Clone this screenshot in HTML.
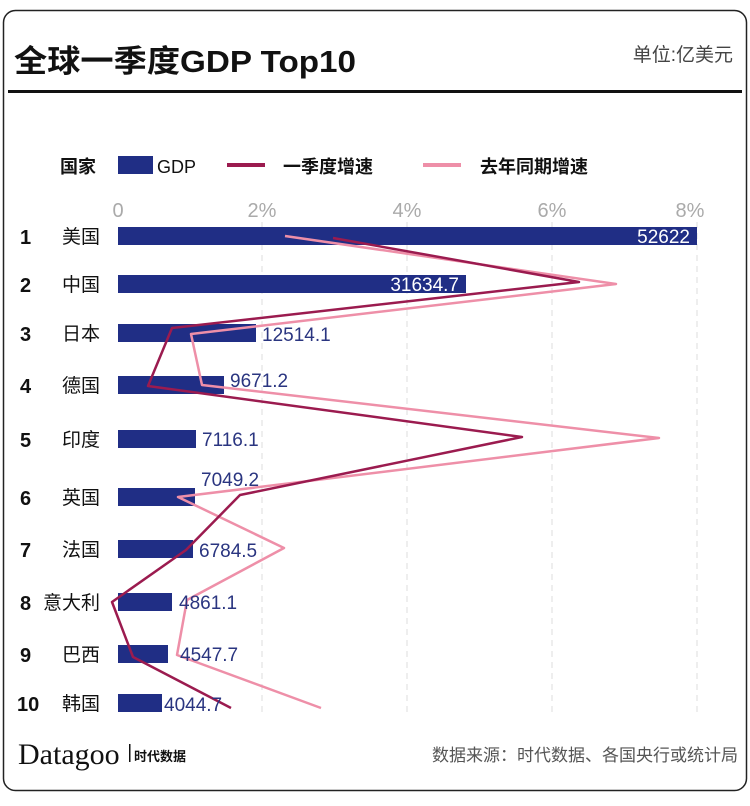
<!DOCTYPE html>
<html><head><meta charset="utf-8"><style>
body{margin:0;width:750px;height:801px;background:#fff;font-family:"Liberation Sans","Noto Sans CJK SC",sans-serif;overflow:hidden}
</style></head><body>
<svg width="750" height="801" xmlns="http://www.w3.org/2000/svg" font-family="Liberation Sans, Noto Sans CJK SC, sans-serif">
<rect x="3.5" y="10.5" width="743" height="780" rx="12" fill="#fff" stroke="#222" stroke-width="1.5"/>
<text x="14" y="72" font-size="31" font-weight="bold" fill="#111" textLength="342" lengthAdjust="spacingAndGlyphs">全球一季度GDP Top10</text>
<text x="733" y="61" font-size="19" fill="#444" text-anchor="end">单位:亿美元</text>
<rect x="8" y="90" width="734" height="3" fill="#111"/>
<text x="60" y="173" font-size="18" font-weight="bold" fill="#111">国家</text>
<rect x="118" y="156" width="35" height="18" fill="#202e85"/>
<text x="157" y="173" font-size="18" fill="#111">GDP</text>
<rect x="227" y="163" width="38" height="4" fill="#9b1b4f"/>
<text x="283" y="173" font-size="18" font-weight="bold" fill="#111">一季度增速</text>
<rect x="423" y="163" width="38" height="4" fill="#ee8fa8"/>
<text x="480" y="173" font-size="18" font-weight="bold" fill="#111">去年同期增速</text>
<g font-size="20" fill="#aaa" text-anchor="middle">
<text x="118" y="217">0</text><text x="262" y="217">2%</text><text x="407" y="217">4%</text><text x="552" y="217">6%</text><text x="690" y="217">8%</text></g>
<g stroke="#ddd" stroke-dasharray="6,5" stroke-width="1">
<line x1="262" y1="222" x2="262" y2="712"/><line x1="407" y1="222" x2="407" y2="712"/><line x1="552" y1="222" x2="552" y2="712"/><line x1="697" y1="222" x2="697" y2="712"/></g>
<g fill="#202e85">
<rect x="118" y="227" width="579" height="18"/>
<rect x="118" y="275" width="348" height="18"/>
<rect x="118" y="324" width="138" height="18"/>
<rect x="118" y="376" width="106" height="18"/>
<rect x="118" y="430" width="78" height="18"/>
<rect x="118" y="488" width="77" height="18"/>
<rect x="118" y="540" width="75" height="18"/>
<rect x="118" y="593" width="54" height="18"/>
<rect x="118" y="645" width="50" height="18"/>
<rect x="118" y="694" width="44" height="18"/></g>
<g font-size="20" fill="#111" font-weight="bold">
<text x="20" y="244">1</text><text x="20" y="292">2</text><text x="20" y="341">3</text><text x="20" y="393">4</text><text x="20" y="447">5</text><text x="20" y="505">6</text><text x="20" y="557">7</text><text x="20" y="610">8</text><text x="20" y="662">9</text><text x="17" y="711">10</text></g>
<g font-size="19" fill="#111" text-anchor="end">
<text x="100" y="243">美国</text><text x="100" y="291">中国</text><text x="100" y="340">日本</text><text x="100" y="392">德国</text><text x="100" y="446">印度</text><text x="100" y="504">英国</text><text x="100" y="556">法国</text><text x="100" y="609">意大利</text><text x="100" y="661">巴西</text><text x="100" y="710">韩国</text></g>
<polyline fill="none" stroke="#ee8fa8" stroke-width="2.5" stroke-linejoin="round" points="285,236 616,284 191,334 202,385 659,438 178,497 284,548 187,600 177,655 321,708"/>
<polyline fill="none" stroke="#9b1b4f" stroke-width="2.5" stroke-linejoin="round" points="333,238 579,282 172,328 148,386 522,437 240,495 186,550 112,602 133,657 231,708"/>
<g font-size="19">
<text x="690" y="243" fill="#fff" text-anchor="end">52622</text>
<text x="459" y="291" fill="#fff" text-anchor="end">31634.7</text>
<g fill="#2a3580">
<text x="262" y="341">12514.1</text><text x="230" y="387">9671.2</text><text x="202" y="446">7116.1</text><text x="201" y="486">7049.2</text><text x="199" y="557">6784.5</text><text x="179" y="609">4861.1</text><text x="180" y="661">4547.7</text><text x="164" y="711">4044.7</text></g></g>
<text x="18" y="764" font-size="30" font-family="Liberation Serif, serif" fill="#111">Datagoo</text>
<rect x="129" y="744" width="1.5" height="18" fill="#111"/>
<text x="134" y="761" font-size="13" font-weight="bold" fill="#111">时代数据</text>
<text x="738" y="761" font-size="17" fill="#555" text-anchor="end">数据来源：时代数据、各国央行或统计局</text>
</svg>
</body></html>
